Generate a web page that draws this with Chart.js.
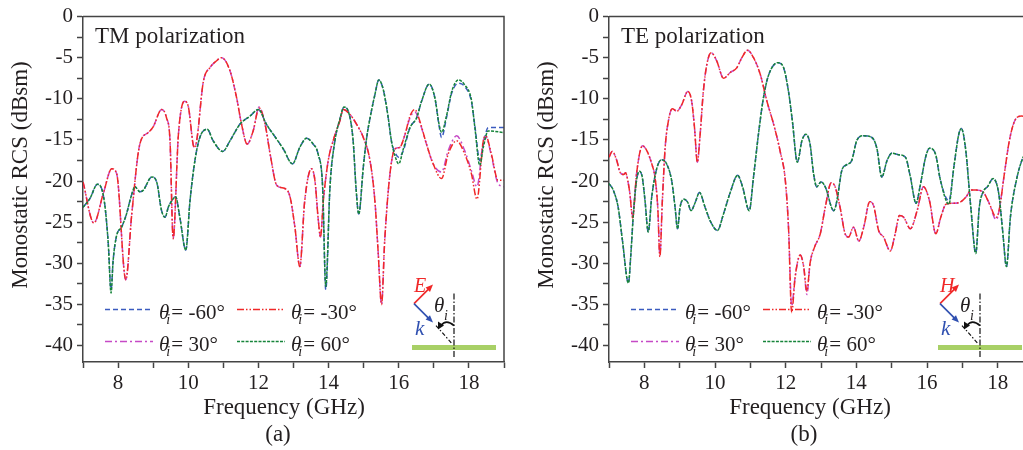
<!DOCTYPE html>
<html>
<head>
<meta charset="utf-8">
<title>Monostatic RCS</title>
<script src="https://cdn.jsdelivr.net/npm/chart.js@4.4.1/dist/chart.umd.min.js"></script>
<style>
  html, body { margin: 0; padding: 0; background: #fff; }
  body { width: 1023px; height: 450px; position: relative; overflow: hidden; }
  .panel { position: absolute; top: 0; }
  #panelTM { left: 0; }
  #panelTE { left: 505px; }
</style>
</head>
<body>
<div class="panel" id="panelTM"><canvas id="chartTM" width="515" height="450"></canvas></div>
<div class="panel" id="panelTE"><canvas id="chartTE" width="545" height="450"></canvas></div>
<script>
// ---- series data (frequency in GHz, RCS in dBsm) ----
const incidenceAngles = ['-60', '-30', '30', '60'];
const seriesColors = ['#3b5bbf', '#f02828', '#c64ac6', '#16843a'];
const seriesDashes = [[5, 3], [7, 2, 1.5, 2, 1.5, 2], [7, 3, 2, 3], [3, 1.3]];
const drawOrder = [3, 1, 2, 0]; // lower draws on top: 60° over -60°, -30° over 30°

const freqTicks = [7, 8, 9, 10, 11, 12, 13, 14, 15, 16, 17, 18, 19];
const rcsTicks = [-40, -37.5, -35, -32.5, -30, -27.5, -25, -22.5, -20, -17.5, -15, -12.5, -10, -7.5, -5, -2.5, 0];

// TM polarization
const tmFreq30 = [7.0, 7.31, 7.58, 7.82, 7.96, 8.22, 8.39, 8.62, 8.86, 9.0, 9.24, 9.38, 9.48, 9.57, 9.72, 9.89, 10.0, 10.17, 10.24, 10.43, 10.62, 10.8, 10.95, 11.19, 11.38, 11.52, 11.68, 11.85, 12.02, 12.19, 12.35, 12.52, 12.75, 12.9, 13.04, 13.18, 13.32, 13.51, 13.61, 13.7, 13.77, 13.85, 13.99, 14.13, 14.32, 14.42, 14.61, 14.8, 14.99, 15.18, 15.32, 15.41, 15.51, 15.6, 15.75, 15.89, 16.03, 16.18, 16.32, 16.46, 16.6, 16.79, 16.98, 17.22, 17.41, 17.65, 17.88, 18.07, 18.23, 18.41, 18.48, 18.64, 18.83, 19.0];
const tmMinus30 = [-20.1, -25.1, -21.5, -18.5, -19.1, -32.0, -24.0, -15.5, -14.1, -13.4, -11.3, -12.3, -15.1, -27.0, -14.3, -10.3, -10.9, -15.9, -15.1, -7.9, -6.2, -5.4, -5.0, -6.6, -9.9, -13.1, -15.5, -13.9, -11.1, -13.1, -17.1, -20.5, -20.9, -21.9, -25.6, -30.4, -22.4, -18.5, -19.9, -24.4, -26.8, -22.4, -17.5, -15.1, -12.7, -11.3, -11.9, -13.1, -14.7, -17.5, -22.4, -28.4, -35.0, -27.2, -19.1, -16.1, -15.9, -14.3, -12.1, -11.3, -12.7, -15.5, -17.9, -19.7, -16.7, -15.1, -16.7, -19.1, -22.2, -15.1, -14.5, -16.7, -19.9, -19.9];
const tmPlus30 = [-20.1, -25.1, -21.5, -18.5, -19.1, -32.0, -24.0, -15.5, -14.1, -13.4, -11.3, -12.3, -15.1, -27.0, -14.3, -10.3, -10.9, -15.9, -15.1, -7.9, -6.2, -5.4, -5.0, -6.6, -9.9, -13.1, -15.5, -13.9, -11.0, -13.1, -17.1, -20.5, -20.9, -21.9, -25.6, -30.4, -22.4, -18.5, -19.9, -24.4, -26.8, -22.4, -17.5, -15.1, -12.7, -11.3, -11.9, -13.1, -14.7, -17.5, -22.4, -28.4, -35.0, -27.2, -19.1, -16.1, -15.9, -14.3, -12.3, -11.6, -12.9, -15.5, -17.9, -18.9, -16.3, -14.5, -16.3, -18.7, -20.7, -15.1, -14.6, -16.9, -20.3, -20.7];

const tmFreq60 = [7.0, 7.2, 7.41, 7.53, 7.63, 7.72, 7.8, 7.86, 7.96, 8.1, 8.24, 8.37, 8.48, 8.62, 8.72, 8.96, 9.1, 9.24, 9.34, 9.43, 9.53, 9.64, 9.76, 9.93, 10.05, 10.19, 10.33, 10.54, 10.71, 10.98, 11.19, 11.47, 11.76, 12.0, 12.23, 12.52, 12.71, 12.97, 13.18, 13.37, 13.56, 13.7, 13.83, 13.92, 14.04, 14.18, 14.32, 14.44, 14.56, 14.7, 14.78, 14.86, 14.99, 15.08, 15.22, 15.32, 15.43, 15.56, 15.7, 15.79, 15.89, 16.0, 16.13, 16.32, 16.51, 16.65, 16.87, 17.03, 17.15, 17.22, 17.36, 17.51, 17.7, 17.88, 18.07, 18.17, 18.31, 18.41, 18.55, 19.0];
const tmMinus60 = [-23.2, -22.1, -20.4, -20.9, -23.2, -27.6, -33.2, -29.6, -26.6, -25.6, -24.0, -21.9, -20.7, -21.3, -21.1, -19.5, -20.1, -23.6, -24.4, -23.2, -22.4, -21.9, -24.4, -28.4, -22.4, -17.5, -14.7, -13.7, -15.1, -16.4, -15.1, -13.1, -12.1, -11.3, -13.1, -14.9, -16.1, -17.9, -15.9, -14.8, -15.5, -16.7, -20.7, -33.2, -20.7, -15.1, -12.5, -11.0, -11.5, -15.1, -20.7, -24.0, -18.3, -14.9, -11.5, -9.5, -7.7, -8.9, -12.3, -15.1, -16.5, -17.1, -16.3, -13.5, -12.3, -10.3, -8.2, -9.9, -13.3, -14.7, -12.3, -9.3, -8.1, -8.5, -10.3, -13.3, -17.5, -15.5, -13.5, -13.5];
const tmPlus60 = [-23.2, -22.1, -20.4, -20.9, -23.2, -27.6, -33.6, -29.6, -26.6, -25.6, -24.0, -21.9, -20.7, -21.3, -21.1, -19.5, -20.1, -23.6, -24.4, -23.2, -22.4, -21.9, -24.4, -28.4, -22.4, -17.5, -14.7, -13.7, -15.1, -16.4, -15.1, -13.1, -12.1, -11.3, -13.1, -14.9, -16.1, -17.9, -15.9, -14.8, -15.5, -16.7, -20.7, -32.8, -20.7, -15.1, -12.5, -11.0, -11.5, -15.1, -20.7, -24.0, -18.3, -14.9, -11.5, -9.5, -7.7, -8.9, -12.3, -15.1, -16.9, -17.9, -16.1, -13.5, -12.3, -10.3, -8.2, -9.9, -13.1, -14.1, -12.1, -9.1, -7.7, -8.3, -10.1, -13.5, -18.1, -15.9, -13.9, -14.1];

// TE polarization
const teFreq30 = [7.0, 7.09, 7.22, 7.31, 7.41, 7.47, 7.53, 7.59, 7.67, 7.78, 7.95, 8.07, 8.21, 8.3, 8.38, 8.44, 8.51, 8.59, 8.68, 8.79, 8.92, 9.06, 9.23, 9.34, 9.42, 9.5, 9.58, 9.67, 9.77, 9.89, 10.05, 10.24, 10.43, 10.62, 10.76, 10.92, 11.09, 11.28, 11.47, 11.66, 11.84, 11.99, 12.08, 12.17, 12.27, 12.41, 12.51, 12.6, 12.69, 12.82, 12.98, 13.12, 13.29, 13.4, 13.54, 13.69, 13.78, 13.92, 14.07, 14.21, 14.38, 14.49, 14.63, 14.77, 14.96, 15.1, 15.22, 15.34, 15.53, 15.72, 15.9, 16.07, 16.25, 16.39, 16.54, 16.73, 16.92, 17.11, 17.25, 17.39, 17.58, 17.76, 17.96, 18.04, 18.19, 18.33, 18.48, 18.67, 19.0];
const teMinus30 = [-17.1, -16.4, -17.5, -18.9, -19.2, -19.0, -19.9, -21.5, -24.5, -19.1, -15.7, -16.3, -17.9, -19.5, -23.2, -29.2, -22.4, -15.9, -12.7, -11.2, -11.5, -10.7, -9.1, -10.3, -13.5, -17.7, -14.3, -9.1, -5.8, -4.4, -5.4, -7.5, -6.8, -6.2, -5.0, -4.1, -5.0, -7.0, -10.3, -13.1, -16.3, -19.9, -25.6, -36.0, -31.6, -29.0, -30.4, -33.4, -30.0, -28.0, -26.4, -23.2, -20.2, -20.7, -23.2, -26.5, -26.8, -25.6, -27.3, -25.6, -22.5, -23.0, -26.0, -26.8, -28.5, -26.4, -24.2, -24.4, -25.8, -23.6, -20.7, -22.4, -26.4, -24.4, -22.8, -22.7, -22.6, -21.9, -21.1, -21.1, -21.3, -22.7, -24.4, -23.6, -19.1, -15.1, -12.7, -12.1, -12.3];
const tePlus30 = [-17.1, -16.4, -17.5, -18.9, -19.2, -19.0, -19.9, -21.5, -24.3, -19.1, -15.7, -16.3, -17.9, -19.5, -23.2, -29.0, -22.4, -15.9, -12.7, -11.2, -11.5, -10.7, -9.1, -10.3, -13.5, -17.7, -14.3, -9.1, -5.8, -4.4, -5.4, -7.5, -6.8, -6.2, -5.0, -4.1, -5.0, -7.0, -10.3, -13.1, -16.3, -19.9, -25.6, -35.2, -31.6, -29.0, -30.4, -33.8, -30.0, -28.0, -26.4, -23.2, -20.2, -20.7, -23.2, -26.5, -26.8, -25.6, -27.3, -25.6, -22.5, -23.0, -26.0, -26.8, -28.5, -26.4, -24.2, -24.4, -25.8, -23.6, -20.7, -22.4, -26.4, -24.4, -22.8, -22.7, -22.6, -21.9, -21.1, -21.1, -21.3, -22.7, -24.7, -23.6, -19.1, -15.1, -12.7, -12.1, -12.3];

const teFreq60 = [7.0, 7.12, 7.26, 7.38, 7.55, 7.62, 7.69, 7.78, 7.86, 7.94, 8.02, 8.11, 8.21, 8.35, 8.49, 8.63, 8.78, 8.87, 8.94, 9.01, 9.12, 9.23, 9.32, 9.44, 9.56, 9.72, 9.86, 10.07, 10.24, 10.43, 10.64, 10.78, 10.97, 11.09, 11.23, 11.37, 11.51, 11.78, 11.94, 12.08, 12.19, 12.33, 12.46, 12.57, 12.69, 12.79, 12.88, 13.0, 13.12, 13.36, 13.45, 13.59, 13.73, 13.87, 14.01, 14.2, 14.44, 14.58, 14.72, 14.87, 15.01, 15.2, 15.39, 15.53, 15.69, 15.81, 15.96, 16.07, 16.24, 16.38, 16.62, 16.76, 16.9, 16.97, 17.09, 17.24, 17.38, 17.48, 17.59, 17.71, 17.87, 18.03, 18.14, 18.25, 18.36, 18.53, 18.72, 19.0];
const teMinus60 = [-20.3, -21.1, -23.2, -27.2, -32.4, -28.8, -24.0, -19.9, -18.8, -19.5, -22.4, -26.2, -21.9, -18.5, -17.4, -17.9, -20.1, -23.2, -25.8, -23.2, -22.2, -22.6, -23.6, -22.6, -21.4, -23.2, -24.8, -26.0, -24.0, -21.4, -19.3, -20.7, -23.6, -19.5, -14.3, -9.9, -7.2, -5.6, -6.2, -9.1, -12.7, -17.7, -15.1, -14.3, -15.5, -19.1, -20.7, -20.1, -20.7, -23.6, -22.4, -18.7, -18.0, -17.5, -15.1, -14.5, -14.7, -16.0, -19.5, -17.5, -16.6, -16.8, -17.1, -19.5, -22.7, -20.5, -17.1, -16.0, -16.7, -19.9, -22.4, -18.3, -14.3, -13.6, -16.0, -23.2, -28.8, -23.2, -21.3, -20.7, -19.7, -21.5, -26.0, -30.4, -24.4, -19.9, -17.1, -15.5];
const tePlus60 = [-20.3, -21.1, -23.2, -27.2, -32.4, -28.8, -24.0, -19.9, -18.8, -19.5, -22.4, -26.2, -21.9, -18.5, -17.4, -17.9, -20.1, -23.2, -25.8, -23.2, -22.2, -22.6, -23.6, -22.6, -21.4, -23.2, -24.8, -26.0, -24.0, -21.4, -19.3, -20.7, -23.6, -19.5, -14.3, -9.9, -7.2, -5.6, -6.2, -9.1, -12.7, -17.7, -15.1, -14.3, -15.5, -19.1, -20.7, -20.1, -20.7, -23.6, -22.4, -18.7, -18.0, -17.5, -15.1, -14.5, -14.7, -16.0, -19.5, -17.5, -16.6, -16.8, -17.1, -19.5, -22.7, -20.5, -17.1, -16.0, -16.7, -19.9, -22.8, -18.3, -14.3, -13.6, -16.0, -23.2, -28.8, -23.2, -21.3, -20.7, -19.7, -21.5, -26.0, -30.4, -24.4, -19.9, -17.1, -15.5];

// ---- styling ----
const serif = '"Liberation Serif", "Times New Roman", serif';
const axisColor = '#444';
const textColor = '#231f20';
Chart.defaults.font.family = serif;
Chart.defaults.color = textColor;

function toPoints(freq, values) {
  return freq.map((f, i) => ({ x: f, y: values[i] }));
}

function line(ctx, x1, y1, x2, y2) {
  ctx.beginPath();
  ctx.moveTo(x1, y1);
  ctx.lineTo(x2, y2);
  ctx.stroke();
}

function arrow(ctx, x1, y1, x2, y2, color) {
  const ang = Math.atan2(y2 - y1, x2 - x1);
  const head = 8;
  ctx.strokeStyle = color;
  ctx.fillStyle = color;
  ctx.lineWidth = 1.6;
  line(ctx, x1, y1, x2 - Math.cos(ang) * head * 0.8, y2 - Math.sin(ang) * head * 0.8);
  ctx.beginPath();
  ctx.moveTo(x2, y2);
  ctx.lineTo(x2 - head * Math.cos(ang - 0.4), y2 - head * Math.sin(ang - 0.4));
  ctx.lineTo(x2 - head * Math.cos(ang + 0.4), y2 - head * Math.sin(ang + 0.4));
  ctx.closePath();
  ctx.fill();
}

// legend with θi subscripts, drawn inside the plot
function drawLegend(chart, ctx, a) {
  const sampleX = [22, 154];
  const textX = [76, 208];
  const rowY = [293, 325];
  chart.data.datasets.forEach((ds, i) => {
    const col = i % 2;
    const row = Math.floor(i / 2);
    const x0 = a.left + sampleX[col];
    const y0 = a.top + rowY[row];
    ctx.save();
    ctx.strokeStyle = ds.borderColor;
    ctx.lineWidth = ds.borderWidth;
    ctx.setLineDash(ds.borderDash);
    line(ctx, x0, y0, x0 + 48, y0);
    ctx.restore();

    const tx = a.left + textX[col];
    const ty = y0 + 9;
    ctx.fillStyle = textColor;
    ctx.textAlign = 'left';
    ctx.font = 'italic 21px ' + serif;
    ctx.fillText('θ', tx, ty);
    const w = ctx.measureText('θ').width;
    ctx.font = 'italic 14px ' + serif;
    ctx.fillText('i', tx + w - 3, ty + 5);
    ctx.font = '21px ' + serif;
    ctx.fillText('= ' + incidenceAngles[i] + '°', tx + w + 2, ty);
  });
}

// small incidence sketch: field and wave vectors above a ground plate
function drawInset(ctx, a, fieldName) {
  const ox = a.left, oy = a.top;
  ctx.save();
  ctx.lineCap = 'butt';
  ctx.strokeStyle = '#a8d066';
  ctx.lineWidth = 5;
  line(ctx, ox + 329, oy + 331, ox + 413, oy + 331);

  ctx.strokeStyle = '#111';
  ctx.lineWidth = 1.2;
  ctx.setLineDash([6, 2, 1.5, 2]);
  line(ctx, ox + 371, oy + 277, ox + 371, oy + 341);
  ctx.setLineDash([4, 2, 1.5, 2]);
  line(ctx, ox + 353, oy + 309, ox + 369, oy + 327);
  ctx.setLineDash([]);

  arrow(ctx, ox + 331, oy + 287, ox + 350, oy + 268, '#f02828');
  arrow(ctx, ox + 331, oy + 287, ox + 350, oy + 306, '#3050b0');

  // angle arc
  ctx.strokeStyle = '#111';
  ctx.fillStyle = '#111';
  ctx.lineWidth = 1.8;
  ctx.beginPath();
  ctx.moveTo(ox + 371, oy + 309);
  ctx.quadraticCurveTo(ox + 363, oy + 302, ox + 358, oy + 309);
  ctx.stroke();
  ctx.beginPath();
  ctx.moveTo(ox + 355, oy + 313);
  ctx.lineTo(ox + 355, oy + 305);
  ctx.lineTo(ox + 361, oy + 309);
  ctx.closePath();
  ctx.fill();

  ctx.textAlign = 'left';
  ctx.font = 'italic 20px ' + serif;
  ctx.fillStyle = '#f02828';
  ctx.fillText(fieldName, ox + 331, oy + 275);
  ctx.fillStyle = '#3050b0';
  ctx.font = 'italic 21px ' + serif;
  ctx.fillText('k', ox + 332, oy + 318);
  ctx.fillStyle = textColor;
  ctx.fillText('θ', ox + 351, oy + 295);
  ctx.font = 'italic 14px ' + serif;
  ctx.fillText('i', ox + 361, oy + 303);
  ctx.restore();
}

const panelDecor = {
  id: 'panelDecor',
  afterDraw(chart, args, opts) {
    const ctx = chart.ctx;
    const a = chart.chartArea;
    ctx.save();
    // box frame on top and right
    ctx.strokeStyle = axisColor;
    ctx.lineWidth = 1.5;
    ctx.beginPath();
    ctx.moveTo(a.left, a.top);
    ctx.lineTo(a.right, a.top);
    ctx.lineTo(a.right, a.bottom);
    ctx.stroke();

    ctx.fillStyle = textColor;
    ctx.font = '23px ' + serif;
    ctx.textAlign = 'left';
    ctx.textBaseline = 'alphabetic';
    ctx.fillText(opts.title, a.left + 12, a.top + 26);

    ctx.textAlign = 'center';
    ctx.fillText('Frequency (GHz)', a.left + 201, 414);
    ctx.fillText(opts.caption, a.left + 195, 441);

    ctx.save();
    ctx.translate(a.left - 62, 175);
    ctx.rotate(-Math.PI / 2);
    ctx.textBaseline = 'middle';
    ctx.fillText('Monostatic RCS (dBsm)', 0, 0);
    ctx.restore();

    drawLegend(chart, ctx, a);
    drawInset(ctx, a, opts.field);
    ctx.restore();
  }
};

function makeDatasets(freq30, minus30, plus30, freq60, minus60, plus60) {
  const sets = [toPoints(freq60, minus60), toPoints(freq30, minus30), toPoints(freq30, plus30), toPoints(freq60, plus60)];
  return sets.map((pts, i) => ({
    label: incidenceAngles[i],
    data: pts,
    order: drawOrder[i],
    borderColor: seriesColors[i],
    borderDash: seriesDashes[i],
    borderWidth: 1.5,
    pointRadius: 0,
    fill: false,
    cubicInterpolationMode: 'monotone'
  }));
}

function makePanel(canvasId, datasets, yWidth, padRight, decor) {
  const tickFont = { family: serif, size: 21 };
  return new Chart(document.getElementById(canvasId), {
    type: 'line',
    data: { datasets: datasets },
    plugins: [panelDecor],
    options: {
      responsive: false,
      animation: false,
      events: [],
      layout: { padding: { left: 0, top: 15, right: padRight, bottom: 0 } },
      scales: {
        x: {
          type: 'linear',
          min: 7,
          max: 19,
          afterBuildTicks: axis => { axis.ticks = freqTicks.map(v => ({ value: v })); },
          afterFit: axis => { axis.height = 88; },
          ticks: {
            autoSkip: false,
            maxRotation: 0,
            padding: 3,
            font: tickFont,
            color: textColor,
            callback: v => (v % 2 === 0 ? String(v) : '')
          },
          grid: { drawOnChartArea: false, tickLength: 6, tickColor: axisColor, tickWidth: 1.5 },
          border: { color: axisColor, width: 1.5 }
        },
        y: {
          type: 'linear',
          min: -42,
          max: 0,
          afterBuildTicks: axis => { axis.ticks = rcsTicks.map(v => ({ value: v })); },
          afterFit: axis => { axis.width = yWidth; },
          ticks: {
            autoSkip: false,
            padding: 4,
            font: tickFont,
            color: textColor,
            callback: v => (v % 5 === 0 ? String(v) : '')
          },
          grid: { drawOnChartArea: false, tickLength: 6, tickColor: axisColor, tickWidth: 1.5 },
          border: { color: axisColor, width: 1.5 }
        }
      },
      plugins: {
        legend: { display: false },
        tooltip: { enabled: false },
        panelDecor: decor
      }
    }
  });
}

makePanel('chartTM',
  makeDatasets(tmFreq30, tmMinus30, tmPlus30, tmFreq60, tmMinus60, tmPlus60),
  83, 11, { title: 'TM polarization', caption: '(a)', field: 'E' });

makePanel('chartTE',
  makeDatasets(teFreq30, teMinus30, tePlus30, teFreq60, teMinus60, tePlus60),
  104, 17, { title: 'TE polarization', caption: '(b)', field: 'H' });
</script>
</body>
</html>
